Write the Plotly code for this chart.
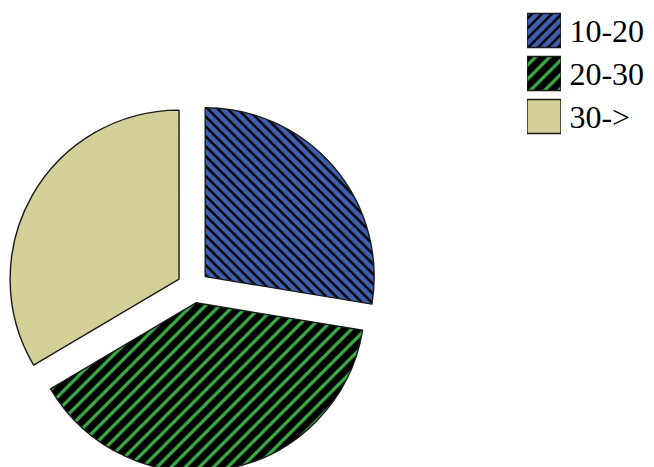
import plotly.graph_objects as go

labels = ["10-20", "20-30", "30->"]
shares = [27.6, 38.9, 33.5]
legend_key = [1, 1, 1]

fill_colors = ["#3F5FAF", "#000000", "#D4CF96"]
hatch_colors = ["#000000", "#3CAA46", "#000000"]
pie_shapes = ["\\", "/", ""]
key_shapes = ["/", "/", ""]
hatch_sizes = [7, 10, 7]
hatch_solidity = [0.35, 0.32, 0.3]

fig = go.Figure()

fig.add_trace(go.Pie(
    labels=labels,
    values=shares,
    sort=False,
    direction="clockwise",
    rotation=0,
    pull=0.095,
    textinfo="none",
    hoverinfo="label+percent",
    showlegend=False,
    domain=dict(x=[0, 0.5657], y=[0.0064, 0.7987]),
    marker=dict(
        colors=fill_colors,
        line=dict(color="#1a1a1a", width=1.4),
        pattern=dict(
            shape=pie_shapes,
            fillmode="replace",
            fgcolor=hatch_colors,
            bgcolor=fill_colors,
            fgopacity=1,
            size=hatch_sizes,
            solidity=hatch_solidity,
        ),
    ),
))

# legend keys, one bar trace per category
for i, lab in enumerate(labels):
    fig.add_trace(go.Bar(
        y=[lab],
        x=[legend_key[i]],
        orientation="h",
        width=0.79,
        showlegend=False,
        hoverinfo="skip",
        marker=dict(
            color=fill_colors[i],
            line=dict(color="#1a1a1a", width=1.4),
            pattern=dict(
                shape=key_shapes[i],
                fillmode="replace",
                fgcolor=hatch_colors[i],
                bgcolor=fill_colors[i],
                fgopacity=1,
                size=hatch_sizes[i],
                solidity=hatch_solidity[i],
            ),
        ),
    ))

fig.update_layout(
    template="none",
    width=654,
    height=467,
    barmode="overlay",
    margin=dict(l=0, r=0, t=0, b=0, pad=0),
    paper_bgcolor="white",
    plot_bgcolor="white",
    font=dict(family="Liberation Serif, Times New Roman, serif", color="#000000"),
    xaxis=dict(
        domain=[519 / 654, 553 / 654],
        range=[0, 1],
        automargin=False,
        showgrid=False, zeroline=False, showline=False,
        showticklabels=False, ticks="", fixedrange=True,
    ),
    yaxis=dict(
        domain=[1 - 130 / 467, 1 - 1 / 467],
        categoryorder="array",
        categoryarray=labels,
        autorange="reversed",
        side="right",
        automargin=False,
        showgrid=False, zeroline=False, showline=False,
        ticks="outside", ticklen=1, tickcolor="rgba(0,0,0,0)",
        tickfont=dict(size=32, family="Liberation Serif, Times New Roman, serif", color="#000000"),
        fixedrange=True,
    ),
)

fig.write_html("out.html")
